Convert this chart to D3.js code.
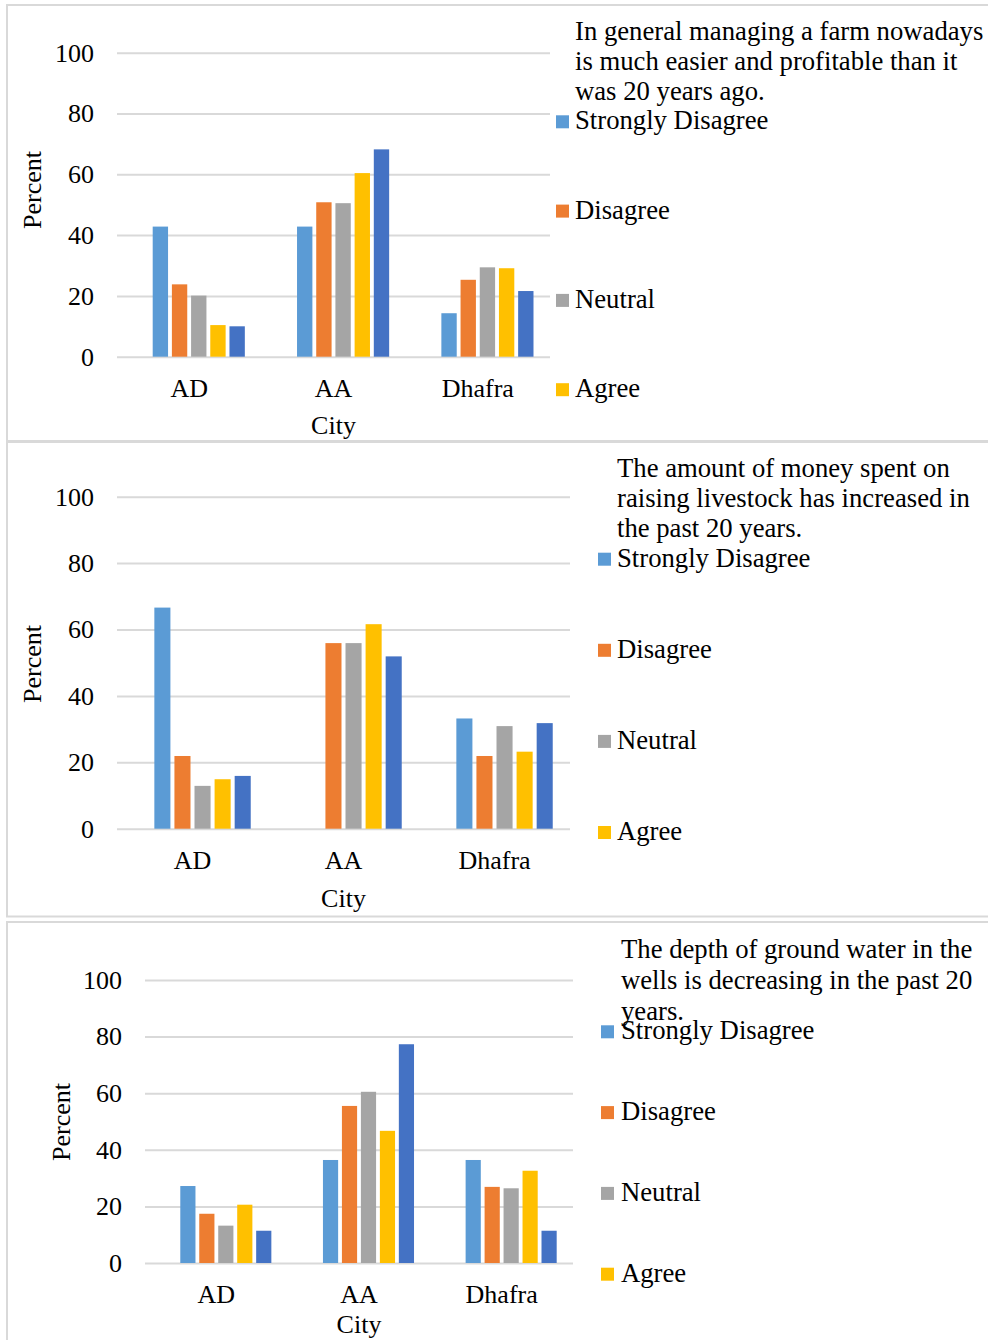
<!DOCTYPE html>
<html>
<head>
<meta charset="utf-8">
<script src="https://cdn.jsdelivr.net/npm/d3@7"></script>
<style>
  body { margin: 0; background: #fff; }
  svg { display: block; }
  text { font-family: "Liberation Serif", "Times New Roman", serif; fill: #000; }
</style>
</head>
<body>
<svg id="chart" width="988" height="1340"></svg>
<script>
// ---- data ----
const cities = ["AD", "AA", "Dhafra"];
const responses = ["Strongly Disagree", "Disagree", "Neutral", "Agree", "Strongly Agree"];
const responseColors = ["#5b9bd5", "#ed7d31", "#a5a5a5", "#ffc000", "#4472c4"];
const yTicks = [0, 20, 40, 60, 80, 100];

// Statement 1: managing a farm
const q1Lines = ["In general managing a farm nowadays", "is much easier and profitable than it", "was 20 years ago."];
const q1StronglyDisagree = [42.8, 42.8, 14.3];
const q1Disagree        = [23.8, 50.8, 25.3];
const q1Neutral         = [20.1, 50.5, 29.4];
const q1Agree           = [10.4, 60.4, 29.1];
const q1StronglyAgree   = [10.0, 68.2, 21.6];

// Statement 2: money spent on livestock
const q2Lines = ["The amount of money spent on", "raising livestock has increased in", "the past 20 years."];
const q2StronglyDisagree = [66.6, null, 33.2];
const q2Disagree        = [21.9, 55.9, 21.9];
const q2Neutral         = [12.9, 55.9, 30.9];
const q2Agree           = [14.9, 61.6, 23.2];
const q2StronglyAgree   = [15.9, 51.9, 31.8];

// Statement 3: ground water depth
const q3Lines = ["The depth of ground water in the", "wells is decreasing in the past 20", "years."];
const q3StronglyDisagree = [27.2, 36.4, 36.4];
const q3Disagree        = [17.4, 55.5, 26.9];
const q3Neutral         = [13.2, 60.5, 26.4];
const q3Agree           = [20.6, 46.7, 32.6];
const q3StronglyAgree   = [11.4, 77.3, 11.4];

// ---- layout per panel ----
const panels = [
  {
    lines: q1Lines,
    series: [q1StronglyDisagree, q1Disagree, q1Neutral, q1Agree, q1StronglyAgree],
    box: { x: 7, y: 5, w: 995, h: 436 },
    plot: { left: 117, right: 550, top: 52.7, bottom: 356.7 },
    yTitle: { x: 41, y: 190 },
    cityOffset: 77,
    legend: { markerX: 556, textX: 575, titleBase: 40, lineH: 30, firstBase: 129.3, step: 89.3 }
  },
  {
    lines: q2Lines,
    series: [q2StronglyDisagree, q2Disagree, q2Neutral, q2Agree, q2StronglyAgree],
    box: { x: 7, y: 442, w: 995, h: 474.5 },
    plot: { left: 117, right: 570, top: 496.7, bottom: 828.7 },
    yTitle: { x: 41, y: 664 },
    cityOffset: 78,
    legend: { markerX: 598, textX: 617, titleBase: 476.7, lineH: 30, firstBase: 566.7, step: 91.1 }
  },
  {
    lines: q3Lines,
    series: [q3StronglyDisagree, q3Disagree, q3Neutral, q3Agree, q3StronglyAgree],
    box: { x: 7, y: 922, w: 995, h: 440 },
    plot: { left: 145, right: 573, top: 980, bottom: 1263 },
    yTitle: { x: 69.6, y: 1122 },
    cityOffset: 70,
    legend: { markerX: 601, textX: 621, titleBase: 958.3, lineH: 30.8, firstBase: 1039.3, step: 80.8 }
  }
];

const svg = d3.select("#chart");
const FONT = 26;
const LEGEND_FONT = 26.7;
const GRID = "#d9d9d9";
const PAGE_H = 1340;

panels.forEach((p, pi) => {
  const g = svg.append("g");

  // panel frame and clip
  const clipId = "clip-panel-" + pi;
  svg.append("clipPath").attr("id", clipId)
    .append("rect").attr("x", p.box.x).attr("y", p.box.y).attr("width", p.box.w).attr("height", p.box.h);
  g.append("rect")
    .attr("x", p.box.x).attr("y", p.box.y).attr("width", p.box.w).attr("height", p.box.h)
    .attr("fill", "#fff").attr("stroke", GRID).attr("stroke-width", 2);

  const inner = g.append("g").attr("clip-path", `url(#${clipId})`);

  // the statement is the first (empty) series, so each group keeps a blank first slot
  const keys = ["statement"].concat(responses);

  const x0 = d3.scaleBand().domain(cities).range([p.plot.left, p.plot.right]).padding(0);
  const x1 = d3.scaleBand().domain(keys).range([0, x0.bandwidth()]).paddingInner(0.2).paddingOuter(0.86);
  const y = d3.scaleLinear().domain([0, 100]).range([p.plot.bottom, p.plot.top]);

  // y axis with gridlines
  const yAxis = inner.append("g")
    .attr("transform", `translate(${p.plot.left},0)`)
    .call(d3.axisLeft(y).tickValues(yTicks).tickSize(-(p.plot.right - p.plot.left)).tickPadding(23));
  yAxis.select(".domain").remove();
  yAxis.selectAll(".tick line").attr("stroke", GRID).attr("stroke-width", 2);
  yAxis.selectAll(".tick text")
    .attr("font-size", FONT).attr("font-family", "Liberation Serif, Times New Roman, serif")
    .attr("fill", "#000");

  // x axis labels
  const xAxis = inner.append("g")
    .attr("transform", `translate(0,${p.plot.bottom})`)
    .call(d3.axisBottom(x0).tickSize(0));
  xAxis.select(".domain").remove();
  xAxis.selectAll(".tick text")
    .attr("font-size", FONT).attr("font-family", "Liberation Serif, Times New Roman, serif")
    .attr("fill", "#000").attr("y", 40).attr("dy", 0);

  // bars
  const bars = [];
  p.series.forEach((vals, si) => {
    vals.forEach((v, ci) => {
      if (v !== null) bars.push({ city: cities[ci], key: responses[si], color: responseColors[si], value: v });
    });
  });
  inner.append("g").selectAll("rect").data(bars).join("rect")
    .attr("x", d => x0(d.city) + x1(d.key))
    .attr("width", x1.bandwidth())
    .attr("y", d => y(d.value))
    .attr("height", d => y(0) - y(d.value))
    .attr("fill", d => d.color);

  // axis titles
  inner.append("text")
    .attr("transform", `translate(${p.yTitle.x},${p.yTitle.y}) rotate(-90)`)
    .attr("text-anchor", "middle").attr("font-size", FONT)
    .text("Percent");
  inner.append("text")
    .attr("x", (p.plot.left + p.plot.right) / 2)
    .attr("y", p.plot.bottom + p.cityOffset)
    .attr("text-anchor", "middle").attr("font-size", FONT)
    .text("City");

  // legend: statement text first, then one entry per response;
  // entries that do not fit inside the panel are left out
  const L = p.legend;
  inner.append("text").attr("font-size", LEGEND_FONT)
    .selectAll("tspan").data(p.lines).join("tspan")
    .attr("x", L.textX)
    .attr("y", (d, i) => L.titleBase + i * L.lineH)
    .text(d => d);

  const bottomLimit = Math.min(p.box.y + p.box.h, PAGE_H);
  const entries = responses
    .map((name, i) => ({ name, color: responseColors[i], base: L.firstBase + i * L.step }))
    .filter(e => e.base + 7 <= bottomLimit);

  const items = inner.append("g").selectAll("g").data(entries).join("g")
    .attr("transform", d => `translate(0,${d.base})`);
  items.append("rect")
    .attr("x", L.markerX).attr("y", -14).attr("width", 13).attr("height", 13)
    .attr("fill", d => d.color);
  items.append("text")
    .attr("x", L.textX).attr("y", 0).attr("font-size", LEGEND_FONT)
    .text(d => d.name);
});
</script>
</body>
</html>
